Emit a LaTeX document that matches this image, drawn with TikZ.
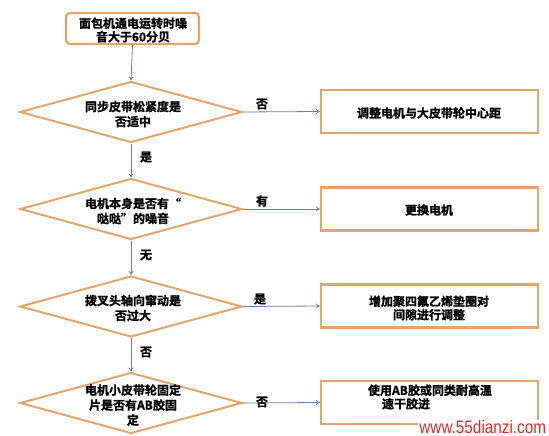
\documentclass[tikz,border=0pt]{standalone}
\usepackage{fontspec}
\usetikzlibrary{shapes.geometric,arrows.meta}
\newfontfamily\cjk{Noto Sans CJK SC Bold}[FakeBold=1.5]
\newfontfamily\wmfont{Liberation Sans}
\definecolor{borderor}{RGB}{228,165,105}
\definecolor{linkblue}{RGB}{100,128,165}
\definecolor{wmred}{RGB}{222,40,36}
\tikzset{
  txt/.style={font=\cjk\fontsize{12}{15}\selectfont, align=center, inner sep=0},
  boxtxt/.style={font=\cjk\fontsize{12}{13.5}\selectfont, align=center, inner sep=0},
  dia/.style={shape=diamond, draw=borderor, line width=2pt, minimum width=222pt, minimum height=61pt, inner sep=0, fill=white},
  actbox/.style={draw=borderor, line width=2.2pt, minimum width=217pt, minimum height=43pt, inner sep=0, fill=white},
  startbox/.style={draw=borderor, line width=2.2pt, rounded corners=4pt, minimum width=133pt, minimum height=31pt, inner sep=0, fill=white},
  link/.style={draw=linkblue, line width=0.8pt, -{To[length=4pt,width=5pt]}},
  lab/.style={font=\cjk\fontsize{12}{14}\selectfont, inner sep=0},
}
\begin{document}
\begin{tikzpicture}[x=1pt,y=-1pt]
\useasboundingbox (0,0) rectangle (549,436);
\fill[white] (0,0) rectangle (549,436);
% start
\node[startbox] (s) at (132.5,28.5) {};
\node[boxtxt] (st) at (133,30) {面包机通电运转时噪\\音大于60分贝};
% diamonds
\node[dia] (d1) at (131,112) {};
\node[txt] (d1t) at (133,114) {同步皮带松紧度是\\否适中};
\node[dia] (d2) at (131,209) {};
\node[txt] (d2t) at (133,211) {电机本身是否有“\\哒哒”的噪音};
\node[dia] (d3) at (131,306.5) {};
\node[txt] (d3t) at (133,308) {拨叉头轴向窜动是\\否过大};
\node[dia] (d4) at (131,403) {};
\node[txt] (d4t) at (133,405) {电机小皮带轮固定\\片是否有AB胶固\\定};
% action boxes
\node[actbox] (b1) at (429.5,111.5) {};
\node[boxtxt] (b1t) at (429,113) {调整电机与大皮带轮中心距};
\node[actbox] (b2) at (429.5,209) {};
\node[boxtxt] (b2t) at (429,210) {更换电机};
\node[actbox] (b3) at (429.5,306) {};
\node[boxtxt] (b3t) at (429,308) {增加聚四氟乙烯垫圈对\\间隙进行调整};
\node[actbox] (b4) at (429.5,402.5) {};
\node[boxtxt] (b4t) at (430,397) {使用AB胶或同类耐高温\\速干胶进\phantom{行固定。}};
% connectors
\draw[link] (s.south) -- (d1.north);
\draw[link] (d1.south) -- (d2.north);
\draw[link] (d2.south) -- (d3.north);
\draw[link] (d3.south) -- (d4.north);
\draw[link] (d1.east) -- (b1.west);
\draw[link] (d2.east) -- (b2.west);
\draw[link] (d3.east) -- (b3.west);
\draw[link] (d4.east) -- (b4.west);
% labels
\node[lab] (l1) at (262,104) {否};
\node[lab] (l2) at (146,157) {是};
\node[lab] (l3) at (262,201) {有};
\node[lab] (l4) at (146,255) {无};
\node[lab] (l5) at (260,299) {是};
\node[lab] (l6) at (146,352) {否};
\node[lab] (l7) at (262,402) {否};
% watermark
\fill[white] (438,396) rectangle (533,413);
\node[fill=white, inner xsep=2pt, inner ysep=1pt, anchor=south east, text=wmred, font=\wmfont\fontsize{18}{18}\selectfont, xscale=0.85, transform shape] (wm) at (548,435) {www.55dianzi.com};
\end{tikzpicture}
\end{document}
